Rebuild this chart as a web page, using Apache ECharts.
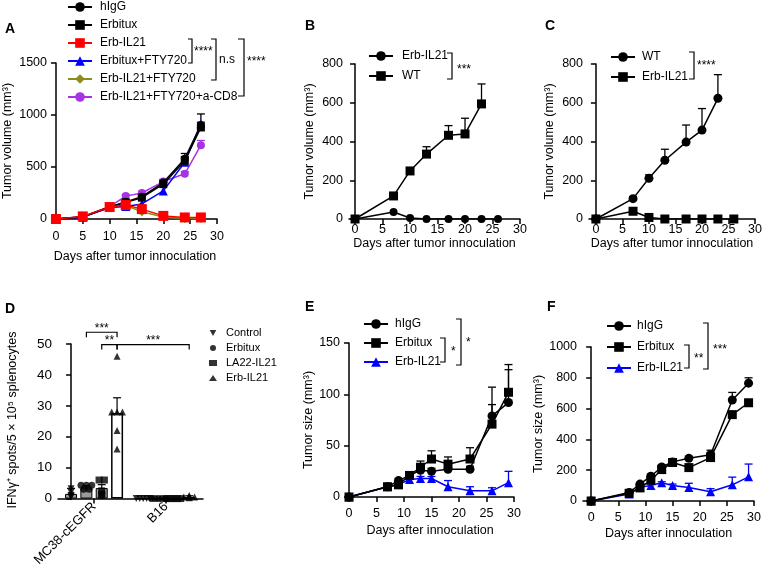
<!DOCTYPE html>
<html><head><meta charset="utf-8">
<script src="https://cdn.jsdelivr.net/npm/echarts@6/dist/echarts.min.js"></script>
<style>html,body{margin:0;padding:0;background:#fff}#c{width:765px;height:569px}</style>
</head><body><div id="c"></div>
<script>
// ---------- Panel A ----------
const daysA = [0,5,10,13,16,20,24,27];
const A_hIgG = [0,22,115,165,215,350,580,905];
const A_hIgG_err = [0,30,130,185,235,375,630,1010];
const A_Erbitux = [0,20,115,160,205,335,560,880];
const A_Erbitux_err = [0,28,125,175,220,355,600,930];
const A_ErbIL21 = [0,25,115,135,95,30,15,15];
const A_ErbFTY = [0,18,110,120,145,270,545,915];
const A_ErbIL21FTY = [0,22,110,130,70,20,5,5];
const A_CD8 = [0,20,120,220,250,360,435,710];
const A_CD8_err = [0,25,130,235,265,380,455,755];
// ---------- Panel B ----------
const daysB_IL21 = [0,7,10,13,17,20,23,26];
const B_ErbIL21 = [0,36,5,0,0,0,0,0];
const daysB_WT = [0,7,10,13,17,20,23];
const B_WT = [0,119,248,335,432,439,594];
const B_WT_err = [0,130,260,373,482,520,697];
// ---------- Panel C ----------
const daysC_WT = [0,7,10,13,17,20,23];
const C_WT = [0,105,210,303,397,459,623];
const C_WT_err = [0,115,228,360,485,570,745];
const daysC_IL21 = [0,7,10,13,17,20,23,26];
const C_ErbIL21 = [0,40,8,0,0,0,0,0];
// ---------- Panel D ----------
const groupsD = ['MC38-cEGFR','B16'];
const treatD = ['Control','Erbitux','LA22-IL21','Erb-IL21'];
const meanD = [[1.5,3.3,3.4,27.7],[0,0,0,0.5]];
const errD = [[3.3,4.2,4.5,32.6],[0,0,0,0.9]];
const pointsD = [
  [[3.2,2,1,0.8,0.5],[4.3,4.3,4.3,3,3],[6,6,1.5,1,2.5],[46,28,28,28,22,16]],
  [[0,0,0,0,0],[0,0,0,0,0],[0,0,0,0,0],[0.5,1,0.5,0.3,0.5]]
];
const sigD = [['***',0,1,0,3,53.8],['**',0,2,0,3,49.8],['***',0,3,1,3,49.8]];
// ---------- Panel E ----------
const daysE = [0,7,9,11,13,15,18,22,26,29];
const E_hIgG = [0,10,16,21,26,25,27,27,79,92];
const E_hIgG_err = [0,11,18,23,30,28,30,30,107,124];
const E_Erbitux = [0,10,12,21,29,37,32,37,71,102];
const E_Erbitux_err = [0,11,14,23,35,45,39,48,90,129];
const E_ErbIL21 = [0,10,12,17,18,18,10,6,6,14];
const E_ErbIL21_err = [0,11,13,18,20,20,16,10,9,25];
// ---------- Panel F ----------
const daysF = [0,7,9,11,13,15,18,22,26,29];
const F_hIgG = [0,55,110,161,221,254,277,300,656,765];
const F_hIgG_err = [0,60,120,175,235,265,290,315,705,800];
const F_Erbitux = [0,50,85,135,204,250,217,282,561,638];
const F_Erbitux_err = [0,55,95,150,215,260,230,330,580,650];
const F_ErbIL21 = [0,45,90,100,118,101,88,60,105,157];
const F_ErbIL21_err = [0,50,95,110,125,110,115,80,155,240];

const dayTicks = [0,5,10,15,20,25,30];
const FONT = 'Arial, "Liberation Sans", sans-serif';
const DOWN_TRI = 'path://M0,0 L10,0 L5,9 Z';

function xAx(gi, min, max, ticks, name, nameGap, labelMargin){
  return {type:'value', gridIndex:gi, min:min, max:max,
    axisLine:{show:true,onZero:false,lineStyle:{color:'#000',width:1.5}},
    axisTick:{show:true,length:5,lineStyle:{color:'#000',width:1.5},customValues:ticks},
    axisLabel:{customValues:ticks,color:'#000',fontSize:12.5,fontFamily:FONT,margin:labelMargin,formatter:v=>String(v)},
    splitLine:{show:false},
    name:name,nameLocation:'middle',nameGap:nameGap,
    nameTextStyle:{color:'#000',fontSize:12.5,fontFamily:FONT}};
}
function yAx(gi, max, interval, name, nameGap, fs){
  return {type:'value', gridIndex:gi, min:0, max:max, interval:interval,
    axisLine:{show:true,lineStyle:{color:'#000',width:1.5}},
    axisTick:{show:true,length:5,lineStyle:{color:'#000',width:1.5}},
    axisLabel:{color:'#000',fontSize:fs||12.5,fontFamily:FONT,margin:6,formatter:v=>String(v)},
    splitLine:{show:false},
    name:name,nameLocation:'middle',nameGap:nameGap,
    nameTextStyle:{color:'#000',fontSize:12.5,fontFamily:FONT}};
}
function line(name, gi, days, vals, color, symbol, size, z){
  return {type:'line', name:name, xAxisIndex:gi, yAxisIndex:gi,
    data: days.map((d,i)=>[d, vals[i]]), symbol:symbol, symbolSize:size,
    itemStyle:{color:color}, lineStyle:{color:color,width:1.5}, z:z||3, animation:false};
}
function errs(gi, days, vals, tops, color){
  return {type:'custom', xAxisIndex:gi, yAxisIndex:gi, z:2, animation:false, silent:true,
    data: days.map((d,i)=>[d, vals[i], tops[i]]),
    renderItem:function(params, api){
      const p1 = api.coord([api.value(0), api.value(1)]);
      const p2 = api.coord([api.value(0), api.value(2)]);
      return {type:'group', children:[
        {type:'line', shape:{x1:p1[0],y1:p1[1],x2:p2[0],y2:p2[1]}, style:{stroke:color,lineWidth:1.3}},
        {type:'line', shape:{x1:p2[0]-4,y1:p2[1],x2:p2[0]+4,y2:p2[1]}, style:{stroke:color,lineWidth:1.3}}
      ]};
    }};
}
function legend(left, top, names, gap, pad){
  return {left:left, top:top, orient:'vertical', itemWidth:24, itemHeight:12, itemGap:gap,
    data:names, formatter:n=>n.split('|')[1], selectedMode:false,
    textStyle:{color:'#000',fontSize:12,fontFamily:FONT,lineHeight:14,padding:[0,0,0,pad]}};
}
function brk(x, y1, y2, arm, label, lx, ly){
  return [
    {type:'polyline', shape:{points:[[x-arm,y1],[x,y1],[x,y2],[x-arm,y2]]}, style:{stroke:'#000',lineWidth:1.2,fill:null}},
    {type:'text', x:lx, y:ly, style:{text:label, font:'12px '+FONT, fill:'#000', verticalAlign:'middle', textVerticalAlign:'middle'}}
  ];
}
function letter(t, x, y){
  return {type:'text', x:x, y:y, style:{text:t, font:'bold 14px '+FONT, fill:'#000', verticalAlign:'top', textVerticalAlign:'top'}};
}

// Panel D layout helpers
const gapD = 4.7;
const posD = (g,i)=> g*gapD + i;
const centersD = groupsD.map((g,gi)=> posD(gi,1.5));

const series = [];
// A
series.push(line('A|Erb-IL21+FTY720',0,daysA,A_ErbIL21FTY,'#8c8c1a','diamond',9,3));
series.push(line('A|Erb-IL21+FTY720+a-CD8',0,daysA,A_CD8,'#a633e6','circle',8,3));
series.push(line('A|Erbitux+FTY720',0,daysA,A_ErbFTY,'#0000ff','triangle',9,4));
series.push(line('A|hIgG',0,daysA,A_hIgG,'#000','circle',8,5));
series.push(line('A|Erbitux',0,daysA,A_Erbitux,'#000','rect',8,5));
series.push(line('A|Erb-IL21',0,daysA,A_ErbIL21,'#ff0000','rect',10,6));
series.push(errs(0,daysA,A_CD8,A_CD8_err,'#a633e6'));
series.push(errs(0,daysA,A_hIgG,A_hIgG_err,'#000'));
series.push(errs(0,daysA,A_Erbitux,A_Erbitux_err,'#000'));
// B
series.push(line('B|Erb-IL21',1,daysB_IL21,B_ErbIL21,'#000','circle',8));
series.push(line('B|WT',1,daysB_WT,B_WT,'#000','rect',9));
series.push(errs(1,daysB_WT,B_WT,B_WT_err,'#000'));
// C
series.push(line('C|WT',2,daysC_WT,C_WT,'#000','circle',9));
series.push(line('C|Erb-IL21',2,daysC_IL21,C_ErbIL21,'#000','rect',9));
series.push(errs(2,daysC_WT,C_WT,C_WT_err,'#000'));
// D bars
const barData = [];
const errDData = [];
groupsD.forEach((g,gi)=>{
  treatD.forEach((t,ti)=>{
    const last = ti===treatD.length-1 && gi===0;
    barData.push({value:[posD(gi,ti), meanD[gi][ti]],
      itemStyle:{color: last?'#fff':'#9a9a9a', borderColor:'#000', borderWidth: last?1.5:1}});
    errDData.push([posD(gi,ti), meanD[gi][ti], errD[gi][ti]]);
  });
});
series.push({type:'bar', xAxisIndex:3, yAxisIndex:3, barWidth:12, data:barData, z:2, animation:false, silent:true});
series.push({type:'custom', xAxisIndex:3, yAxisIndex:3, z:3, animation:false, silent:true, data:errDData,
  renderItem:function(params, api){
    if (api.value(2) <= api.value(1)) return null;
    const p1 = api.coord([api.value(0), api.value(1)]);
    const p2 = api.coord([api.value(0), api.value(2)]);
    return {type:'group', children:[
      {type:'line', shape:{x1:p1[0],y1:p1[1],x2:p2[0],y2:p2[1]}, style:{stroke:'#000',lineWidth:1.2}},
      {type:'line', shape:{x1:p2[0]-4,y1:p2[1],x2:p2[0]+4,y2:p2[1]}, style:{stroke:'#000',lineWidth:1.2}}
    ]};
  }});
const symD = [DOWN_TRI,'circle','rect','triangle'];
treatD.forEach((t,ti)=>{
  const data = [];
  groupsD.forEach((g,gi)=>{
    const pts = pointsD[gi][ti];
    const seen = {};
    pts.forEach(v=>{ seen[v] = (seen[v]||0)+1; });
    const used = {};
    pts.forEach(v=>{
      const m = seen[v]; const k = used[v]||0; used[v]=k+1;
      const step = m>1 ? Math.min(0.35, 0.9/(m-1)) : 0;
      data.push([posD(gi,ti) + (k-(m-1)/2)*step, v]);
    });
  });
  series.push({type:'scatter', name:'D|'+t, xAxisIndex:3, yAxisIndex:3, data:data,
    symbol:symD[ti], symbolSize:7, itemStyle:{color:'#000'}, z:4, animation:false});
});
series.push({type:'custom', xAxisIndex:3, yAxisIndex:3, z:5, animation:false, silent:true,
  data: sigD.map((s,i)=>[posD(s[1],s[2]), posD(s[3],s[4]), s[5], i]),
  renderItem:function(params, api){
    const p1 = api.coord([api.value(0), api.value(2)]);
    const p2 = api.coord([api.value(1), api.value(2)]);
    const leg = 5;
    return {type:'group', children:[
      {type:'polyline', shape:{points:[[p1[0],p1[1]+leg],[p1[0],p1[1]],[p2[0],p2[1]],[p2[0],p2[1]+leg]]}, style:{stroke:'#000',lineWidth:1.2,fill:null}},
      {type:'text', x:(p1[0]+p2[0])/2, y:p1[1]+2, style:{text:sigD[api.value(3)][0], font:'12px '+FONT, fill:'#000', align:'center', textAlign:'center', verticalAlign:'bottom', textVerticalAlign:'bottom'}}
    ]};
  }});
// E
series.push(line('E|hIgG',4,daysE,E_hIgG,'#000','circle',9,4));
series.push(line('E|Erbitux',4,daysE,E_Erbitux,'#000','rect',9,4));
series.push(line('E|Erb-IL21',4,daysE,E_ErbIL21,'#0000ff','triangle',9,3));
series.push(errs(4,daysE,E_hIgG,E_hIgG_err,'#000'));
series.push(errs(4,daysE,E_Erbitux,E_Erbitux_err,'#000'));
series.push(errs(4,daysE,E_ErbIL21,E_ErbIL21_err,'#0000ff'));
// F
series.push(line('F|hIgG',5,daysF,F_hIgG,'#000','circle',9,4));
series.push(line('F|Erbitux',5,daysF,F_Erbitux,'#000','rect',9,4));
series.push(line('F|Erb-IL21',5,daysF,F_ErbIL21,'#0000ff','triangle',9,3));
series.push(errs(5,daysF,F_hIgG,F_hIgG_err,'#000'));
series.push(errs(5,daysF,F_Erbitux,F_Erbitux_err,'#000'));
series.push(errs(5,daysF,F_ErbIL21,F_ErbIL21_err,'#0000ff'));

const legendD = legend(204,321,['D|Control','D|Erbitux','D|LA22-IL21','D|Erb-IL21'],1,4);
legendD.itemWidth = 8; legendD.itemHeight = 6;
legendD.textStyle = {color:'#000',fontSize:11,fontFamily:FONT,lineHeight:14,padding:[0,0,0,4]};

const option = {
  animation:false,
  backgroundColor:'#fff',
  grid:[
    {left:50, top:63, width:167, height:156},
    {left:349, top:64, width:171, height:155},
    {left:589, top:64, width:172, height:155},
    {left:58, top:344, width:145, height:156},
    {left:346, top:343, width:168, height:154},
    {left:583, top:347, width:171, height:154}
  ],
  xAxis:[
    xAx(0,-0.55,30,dayTicks,'Days after tumor innoculation',31,11),
    xAx(1,-1.1,30,dayTicks,'Days after tumor innoculation',15,4),
    xAx(2,-1.3,30,dayTicks,'Days after tumor innoculation',15,4),
    Object.assign(xAx(3,-0.85,8.6,centersD,'',0,6), {axisLabel:{customValues:centersD, rotate:45, color:'#000', fontSize:13, fontFamily:FONT, margin:6,
        formatter:v=>groupsD[centersD.indexOf(v)]}}),
    xAx(4,-0.55,30,dayTicks,'Days after innoculation',27,10),
    xAx(5,-1.5,30,dayTicks,'Days after innoculation',26,10)
  ],
  yAxis:[
    yAx(0,1500,500,'Tumor volume (mm³)',39),
    yAx(1,800,200,'Tumor volume (mm³)',33),
    yAx(2,800,200,'Tumor volume (mm³)',33),
    yAx(3,50,10,'',0,13.5),
    yAx(4,150,50,'Tumor size (mm³)',30),
    yAx(5,1000,200,'Tumor size (mm³)',29)
  ],
  legend:[
    legend(62,-5,['A|hIgG','A|Erbitux','A|Erb-IL21','A|Erbitux+FTY720','A|Erb-IL21+FTY720','A|Erb-IL21+FTY720+a-CD8'],4,3),
    legend(363,44,['B|Erb-IL21','B|WT'],6,4),
    legend(605,45,['C|WT','C|Erb-IL21'],6,2),
    legendD,
    legend(358,312,['E|hIgG','E|Erbitux','E|Erb-IL21'],5,2),
    legend(601,314,['F|hIgG','F|Erbitux','F|Erb-IL21'],7,1)
  ],
  series:series,
  graphic:[].concat(
    letter('A',5,22), letter('B',305,19), letter('C',545,19),
    letter('D',5,302), letter('E',305,300), letter('F',547,300),
    [{type:'text', x:13, y:420, rotation:Math.PI/2,
      style:{text:'IFNγ⁺ spots/5 × 10⁵ splenocytes', font:'12.5px '+FONT, fill:'#000', align:'center', textAlign:'center', verticalAlign:'middle', textVerticalAlign:'middle'}}],
    brk(192,39,63,4,'****',194,52),
    brk(216,39,80,5,'n.s',219,60),
    brk(244,39,96,6,'****',247,62),
    brk(452,53,79,5,'***',457,70),
    brk(694,52,79,5,'****',697,66),
    brk(445,338,362,5,'*',451,352),
    brk(461,319,365,5,'*',466,343),
    brk(689,345,368,5,'**',694,359),
    brk(708,323,369,5,'***',713,350)
  )
};
const chart = echarts.init(document.getElementById('c'), null, {renderer:'canvas'});
chart.setOption(option);
</script></body></html>
